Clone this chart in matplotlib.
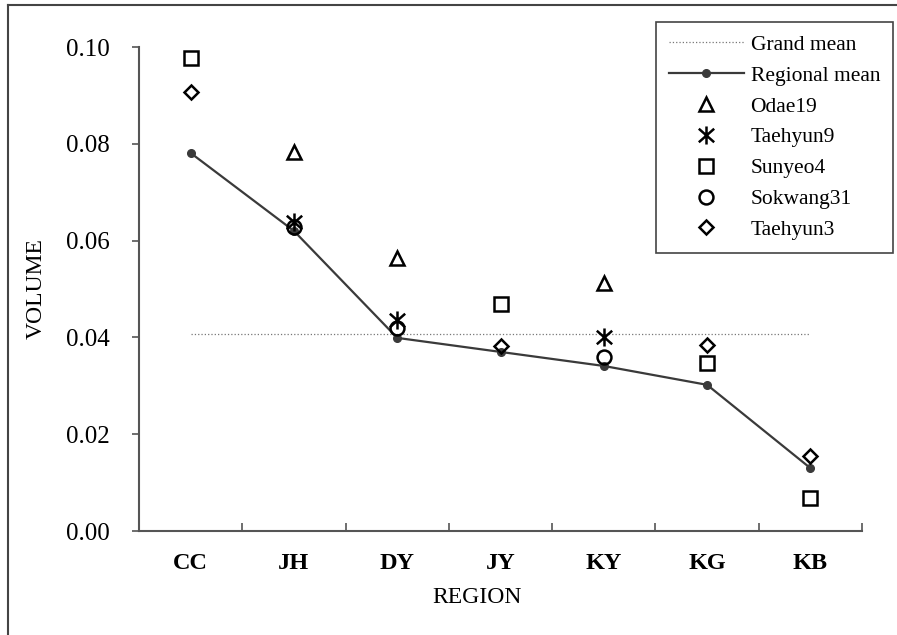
import numpy as np
import matplotlib
matplotlib.use("Agg")
import matplotlib.pyplot as plt
from matplotlib.lines import Line2D
from matplotlib.path import Path

plt.rcParams['font.family'] = ['Liberation Serif', 'DejaVu Serif']

regions = ['CC', 'JH', 'DY', 'JY', 'KY', 'KG', 'KB']
grand_mean = 0.0407
regional_mean = [0.0781, 0.0620, 0.0399, 0.0370, 0.0341, 0.0302, 0.0130]

# (region index, value) for each clone
odae19 = ([1, 2, 4], [0.0783, 0.0564, 0.0512])
taehyun9 = ([1, 2, 4], [0.0638, 0.0436, 0.0401])
sunyeo4 = ([0, 3, 5, 6], [0.0977, 0.0469, 0.0347, 0.0068])
sokwang31 = ([1, 2, 4], [0.0628, 0.0419, 0.0360])
taehyun3 = ([0, 3, 5, 6], [0.0907, 0.0382, 0.0384, 0.0155])

yticks = [0.00, 0.02, 0.04, 0.06, 0.08, 0.10]

# asterisk: vertical bar plus an X
star = Path([(0, -1), (0, 1), (-0.85, -0.75), (0.85, 0.75), (-0.85, 0.75), (0.85, -0.75)],
            [Path.MOVETO, Path.LINETO] * 3)

fig = plt.figure(figsize=(8.97, 6.35), dpi=100)
ax = fig.add_axes([139/897, 1-531/635, 723/897, 484/635])

x = np.arange(len(regions))
ax.plot(x, [grand_mean]*len(x), ls=':', lw=0.9, color='#777777', label='Grand mean')
ax.plot(x, regional_mean, '-o', color='#3a3a3a', lw=1.6, ms=5.5, label='Regional mean')

mk = dict(ls='none', mfc='none', mec='black', mew=1.8)
ax.plot(*odae19, marker='^', ms=10, label='Odae19', **mk)
ax.plot(*taehyun9, marker=star, ms=13, label='Taehyun9', **mk)
ax.plot(*sunyeo4, marker='s', ms=10, label='Sunyeo4', **mk)
ax.plot(*sokwang31, marker='o', ms=10, label='Sokwang31', **mk)
ax.plot(*taehyun3, marker='D', ms=7.5, label='Taehyun3', **mk)

ax.set_xlim(-0.5, len(regions) - 0.5)
ax.set_ylim(0, 0.1)
ax.set_yticks(yticks)
ax.set_yticklabels(['%.2f' % v for v in yticks], fontsize=18)
ax.set_xticks(x)
ax.set_xticklabels(regions, fontsize=17.5, fontweight='bold')
ax.set_xticks(np.arange(0.5, len(regions)), minor=True)
ax.tick_params(axis='x', which='major', length=0, pad=16)
ax.tick_params(axis='x', which='minor', direction='in', length=6, width=1.2, color='#555555')
ax.tick_params(axis='y', direction='out', length=5, width=1.2, color='#555555', pad=16)

for s in ['top', 'right']:
    ax.spines[s].set_visible(False)
for s in ['left', 'bottom']:
    ax.spines[s].set_color('#555555')
    ax.spines[s].set_linewidth(1.5)

ax.set_ylabel('VOLUME', fontsize=17, va='center')
ax.yaxis.set_label_coords(-0.142, 0.5)
ax.set_xlabel('REGION', fontsize=17, va='center')
ax.xaxis.set_label_coords(0.467, -0.138)

leg = ax.legend(loc='upper right', bbox_to_anchor=(893/897, 1-22/635),
                bbox_transform=fig.transFigure, borderaxespad=0,
                fontsize=15.5, handlelength=3.5, handletextpad=0.3,
                labelspacing=0.5, borderpad=0.6, fancybox=False,
                framealpha=1, edgecolor='#444444', numpoints=1)
leg.get_frame().set_linewidth(1.2)

# figure border (top and left)
fig.add_artist(Line2D([8/897, 1], [1-5/635, 1-5/635], transform=fig.transFigure,
                      color='#444444', lw=1.5))
fig.add_artist(Line2D([8/897, 8/897], [0, 1-5/635], transform=fig.transFigure,
                      color='#444444', lw=1.5))

fig.savefig('out.png', dpi=100)
